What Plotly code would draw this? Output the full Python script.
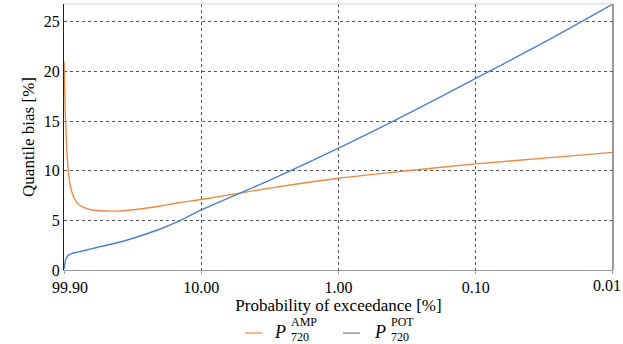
import plotly.graph_objects as go
import math

# Probability of exceedance [%] (log axis, reversed)
prob = [99.9, 98.2, 96.6, 95.0, 93.4, 90.3, 87.4, 83.0, 76.4, 64.6, 54.6,
        39.0, 27.9, 19.9, 14.3, 10.0, 3.16, 1.0, 0.316, 0.1, 0.0316, 0.01]

# Quantile bias [%] for the two estimators
bias_amp = [21.0, 16.5, 13.8, 11.6, 10.2, 8.6, 7.8, 7.05, 6.5, 6.1, 5.97,
            5.95, 6.15, 6.45, 6.8, 7.1, 8.25, 9.24, 10.0, 10.69, 11.27, 11.85]
bias_pot = [0.1, 0.8, 1.15, 1.32, 1.45, 1.6, 1.68, 1.75, 1.85, 2.1, 2.35,
            2.82, 3.43, 4.13, 4.97, 6.05, 9.05, 12.27, 15.7, 19.3, 22.95, 26.8]

x_tickvals = [99.9, 10.0, 1.0, 0.1, 0.01]
x_ticktext = ["99.90", "10.00", "1.00", "0.10", "0.01"]
y_tickvals = [0, 5, 10, 15, 20, 25]

ORANGE = "#f0893f"
BLUE = "#4c7fd6"
FONT = "Liberation Serif, Times New Roman, Times, serif"

# Edge labels are nudged inward so they stay inside the page:
# the first one via leading spaces, the last one drawn as an annotation.
axis_ticktext = ["\u00a0\u00a0\u00a0" + x_ticktext[0]] + x_ticktext[1:-1] + [""]

fig = go.Figure()
fig.add_trace(go.Scatter(x=prob, y=bias_amp, mode="lines",
                         line=dict(color=ORANGE, width=1.4, shape="spline", smoothing=0.8),
                         showlegend=False))
fig.add_trace(go.Scatter(x=prob, y=bias_pot, mode="lines",
                         line=dict(color=BLUE, width=1.4, shape="spline", smoothing=0.8),
                         showlegend=False))

fig.update_layout(
    width=623, height=344,
    margin=dict(l=64, r=10, t=4, b=74),
    paper_bgcolor="white", plot_bgcolor="white",
    font=dict(family=FONT, size=16, color="black"),
    xaxis=dict(
        type="log",
        range=[math.log10(99.9) + 0.0005, math.log10(0.01) - 0.0005],
        tickvals=x_tickvals, ticktext=axis_ticktext,
        ticklabeloverflow="allow", automargin=False,
        showgrid=True, gridcolor="#555", griddash="dot", gridwidth=1,
        showline=True, linecolor="#999", linewidth=1,
        ticks="outside", ticklen=3, tickcolor="#999",
        zeroline=False,
        title=dict(text="Probability of exceedance [%]", standoff=2,
                   font=dict(size=17, family=FONT)),
        tickfont=dict(size=16, family=FONT),
    ),
    yaxis=dict(
        range=[0, 26.8],
        tickvals=y_tickvals, automargin=False,
        showgrid=True, gridcolor="#555", griddash="dot", gridwidth=1,
        showline=True, linecolor="#222", linewidth=1,
        zeroline=False,
        ticks="", ticklabelstandoff=0,
        title=dict(text="Quantile bias [%]", standoff=4,
                   font=dict(size=17, family=FONT)),
        tickfont=dict(size=16, family=FONT),
    ),
)

# Last x tick label
fig.add_annotation(xref="x", yref="paper", x=math.log10(x_tickvals[-1]), y=-0.057,
                   text=x_ticktext[-1], showarrow=False, xanchor="right",
                   yanchor="middle", xshift=9, borderpad=0,
                   font=dict(size=16, family=FONT))

# Frame: top and right borders
fig.add_shape(type="line", xref="paper", yref="paper", x0=0, x1=1, y0=1, y1=1,
              line=dict(color="#d0d0d0", width=1))
fig.add_shape(type="line", xref="paper", yref="paper", x0=1, x1=1, y0=0, y1=1,
              line=dict(color="#777", width=1.5))

# Legend below the axis title, with stacked sub/superscripts
legend_items = [
    (ORANGE, "AMP", 0.3297, 0.3607, 0.3934, 0.411),
    ("#6f7a90", "POT", 0.5082, 0.5392, 0.5756, 0.593),
]
ly = -0.237
for color, sup, x0, x1, xp, xs in legend_items:
    fig.add_shape(type="line", xref="paper", yref="paper", x0=x0, x1=x1,
                  y0=ly, y1=ly, line=dict(color=color, width=1.2))
    fig.add_annotation(xref="paper", yref="paper", x=xp, y=-0.234,
                       text="<i>P</i>", showarrow=False, xanchor="center",
                       yanchor="middle", borderpad=0,
                       font=dict(size=18, family=FONT))
    fig.add_annotation(xref="paper", yref="paper", x=xs, y=-0.195,
                       text=sup, showarrow=False, xanchor="left",
                       yanchor="middle", borderpad=0,
                       font=dict(size=12, family=FONT))
    fig.add_annotation(xref="paper", yref="paper", x=xs, y=-0.253,
                       text="720", showarrow=False, xanchor="left",
                       yanchor="middle", borderpad=0,
                       font=dict(size=12, family=FONT))

fig.write_html("out.html")
